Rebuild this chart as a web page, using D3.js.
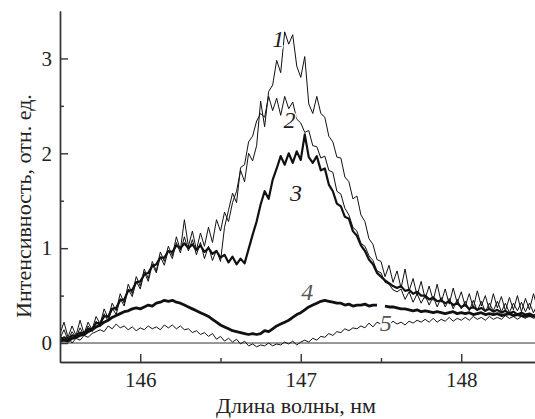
<!DOCTYPE html>
<html>
<head>
<meta charset="utf-8">
<script src="https://cdn.jsdelivr.net/npm/d3@7/dist/d3.min.js"></script>
<style>
  body { margin: 0; background: #fff; }
  svg text { font-family: "Liberation Serif", serif !important; }
</style>
</head>
<body>
<svg id="chart" width="535" height="419"></svg>
<script>
// wavelength grid, nm (145.5 .. 148.5, step 0.025)
const wavelengths = d3.range(121).map(i => +(145.5 + i * 0.025).toFixed(3));

// intensity, arb. units
const curve1 = [0.10,0.22,0.06,0.18,0.08,0.24,0.10,0.22,0.14,0.28,0.20,0.36,0.26,0.42,0.34,0.52,0.42,0.62,0.52,0.70,
  0.60,0.78,0.68,0.86,0.76,0.96,0.86,1.02,0.92,1.12,0.98,1.30,1.02,1.18,0.98,1.16,1.02,1.22,1.06,1.30,
  1.18,1.38,1.28,1.48,1.60,1.82,1.70,2.00,1.92,2.08,2.55,2.28,2.65,2.72,2.98,2.85,3.28,3.15,3.25,2.92,
  2.80,3.02,2.52,2.42,2.60,2.42,2.38,2.18,2.12,1.96,1.95,1.75,1.70,1.52,1.55,1.35,1.28,1.10,1.04,0.88,
  0.86,0.70,0.82,0.64,0.76,0.58,0.78,0.55,0.68,0.50,0.65,0.47,0.60,0.45,0.62,0.43,0.57,0.41,0.58,0.42,
  0.54,0.39,0.52,0.37,0.55,0.39,0.50,0.35,0.52,0.37,0.49,0.34,0.48,0.35,0.50,0.33,0.47,0.35,0.52,0.37,0.46];
const curve2 = [0.05,0.14,0.03,0.12,0.06,0.16,0.08,0.18,0.12,0.23,0.17,0.31,0.23,0.37,0.30,0.47,0.39,0.57,0.49,0.65,
  0.57,0.75,0.65,0.83,0.74,0.91,0.82,0.98,0.89,1.06,0.95,1.12,0.97,1.09,0.93,1.06,0.89,1.02,0.87,0.98,
  0.86,1.22,1.40,1.58,1.48,1.85,1.88,2.12,2.18,2.34,2.42,2.38,2.60,2.45,2.58,2.40,2.60,2.47,2.54,2.36,
  2.32,2.22,2.24,2.08,2.07,1.95,1.97,1.82,1.80,1.60,1.57,1.42,1.35,1.22,1.18,1.05,1.02,0.92,0.87,0.76,
  0.74,0.64,0.62,0.56,0.54,0.57,0.46,0.54,0.43,0.52,0.42,0.50,0.40,0.49,0.38,0.48,0.38,0.47,0.36,0.46,
  0.36,0.44,0.34,0.45,0.34,0.44,0.33,0.42,0.34,0.44,0.33,0.42,0.32,0.42,0.34,0.43,0.33,0.42,0.32,0.41,0.34];
const curve3 = [0.03,0.06,0.04,0.08,0.07,0.11,0.10,0.15,0.15,0.21,0.21,0.28,0.28,0.36,0.37,0.45,0.46,0.55,0.56,0.64,
  0.65,0.72,0.74,0.81,0.83,0.90,0.90,0.97,0.96,1.03,1.00,1.05,1.00,1.04,0.98,1.03,0.96,1.00,0.94,0.97,
  0.90,0.93,0.85,0.91,0.83,0.89,0.84,0.99,1.14,1.28,1.46,1.60,1.52,1.72,1.84,1.97,1.88,2.00,1.90,2.02,
  1.93,2.20,1.96,1.90,1.97,1.82,1.84,1.67,1.60,1.47,1.44,1.33,1.31,1.18,1.13,1.03,0.97,0.88,0.83,0.74,
  0.70,0.66,0.63,0.60,0.58,0.60,0.55,0.56,0.52,0.54,0.50,0.50,0.46,0.48,0.44,0.45,0.42,0.44,0.40,0.42,
  0.38,0.40,0.36,0.38,0.35,0.37,0.34,0.36,0.33,0.35,0.32,0.34,0.31,0.33,0.30,0.32,0.30,0.31,0.29,0.30,0.28];
const curve4 = [0.02,0.03,0.02,0.05,0.06,0.08,0.09,0.12,0.14,0.17,0.19,0.22,0.24,0.27,0.29,0.31,0.33,0.34,0.36,0.37,
  0.36,0.38,0.40,0.39,0.42,0.43,0.45,0.44,0.45,0.43,0.42,0.40,0.38,0.36,0.34,0.32,0.30,0.28,0.25,0.22,
  0.19,0.17,0.15,0.13,0.12,0.11,0.10,0.09,0.10,0.09,0.10,0.13,0.12,0.15,0.18,0.20,0.22,0.24,0.27,0.30,
  0.32,0.35,0.38,0.40,0.42,0.44,0.45,0.44,0.43,0.42,0.42,0.40,0.41,0.39,0.40,0.40,0.41,0.39,0.40,0.40,
  null,0.39,0.38,0.38,0.37,0.36,0.36,0.35,0.34,0.35,0.33,0.34,0.33,0.32,0.33,0.32,0.31,0.32,0.33,0.31,
  0.32,0.31,0.32,0.30,0.31,0.32,0.30,0.31,0.30,0.31,0.29,0.30,0.31,0.29,0.30,0.29,0.28,0.29,0.28,0.28,0.27];
const curve5 = [0.08,0.02,0.06,0.00,0.05,0.03,0.08,0.06,0.10,0.12,0.14,0.12,0.18,0.15,0.20,0.16,0.18,0.14,0.17,0.13,
  0.16,0.14,0.18,0.15,0.17,0.14,0.19,0.16,0.19,0.15,0.18,0.14,0.15,0.11,0.13,0.09,0.11,0.07,0.10,0.04,
  0.07,0.02,0.05,0.01,0.04,-0.01,0.02,-0.03,-0.01,-0.04,-0.02,-0.03,0.00,-0.03,-0.01,-0.02,0.01,-0.01,0.02,-0.02,
  0.01,0.03,0.01,0.05,0.03,0.07,0.06,0.10,0.08,0.12,0.11,0.15,0.13,0.16,0.15,0.18,0.16,0.21,0.17,0.22,
  0.20,0.22,0.19,0.23,0.20,0.22,0.19,0.23,0.21,0.24,0.22,0.25,0.22,0.26,0.22,0.25,0.23,0.27,0.23,0.26,
  0.24,0.27,0.24,0.28,0.25,0.27,0.24,0.28,0.25,0.27,0.25,0.29,0.26,0.28,0.25,0.28,0.26,0.29,0.26,0.28,0.27];

const xMajor = [146, 147, 148];
const xMinor = [146.5, 147.5, 148.5];
const yMajor = [0, 1, 2, 3];
const yMinor = [0.5, 1.5, 2.5];
const curveLabels = ["1", "2", "3", "4", "5"];

const FONT = "'Liberation Serif', serif";
const width = 535, height = 419;
const svg = d3.select("#chart");

const x = d3.scaleLinear().domain([145.5, 148.5]).range([60, 541.5]);
const y = d3.scaleLinear().domain([-0.2, 3.5]).range([362, 11]);

const series = [
  { values: curve1, w: 1.0, label: curveLabels[0], lx: 146.86, ly: 3.12, c: "#222" },
  { values: curve2, w: 1.0, label: curveLabels[1], lx: 146.93, ly: 2.27, c: "#222" },
  { values: curve3, w: 2.2, label: curveLabels[2], lx: 146.97, ly: 1.5, c: "#222" },
  { values: curve4, w: 2.8, label: curveLabels[3], lx: 147.04, ly: 0.45, c: "#555" },
  { values: curve5, w: 1.0, label: curveLabels[4], lx: 147.53, ly: 0.13, c: "#555" }
];

const line = d3.line()
  .defined(d => d[1] !== null)
  .x(d => x(d[0]))
  .y(d => y(d[1]));

svg.append("defs").append("clipPath").attr("id", "plot")
  .append("rect").attr("x", 60).attr("y", 0).attr("width", width - 60).attr("height", 362);

// zero line
svg.append("line")
  .attr("x1", x(145.5)).attr("x2", width)
  .attr("y1", y(0)).attr("y2", y(0))
  .attr("stroke", "#333").attr("stroke-width", 1);

const g = svg.append("g").attr("clip-path", "url(#plot)");
series.forEach(s => {
  g.append("path")
    .datum(wavelengths.map((w, i) => [w, s.values[i]]))
    .attr("d", line)
    .attr("fill", "none")
    .attr("stroke", "#111")
    .attr("stroke-width", s.w)
    .attr("stroke-linejoin", "round");
});

series.forEach(s => {
  svg.append("text")
    .attr("x", x(s.lx))
    .attr("y", y(s.ly))
    .attr("text-anchor", "middle")
    .style("font-family", FONT, "important")
    .style("font-style", "italic")
    .style("font-size", "24px")
    .style("fill", s.c)
    .attr("stroke", "#fff").attr("stroke-width", 3).style("paint-order", "stroke")
    .text(s.label);
});

// axes
const xAxis = svg.append("g")
  .attr("transform", "translate(0,362)")
  .call(d3.axisBottom(x).tickValues(xMajor).tickSize(-8).tickSizeOuter(0).tickPadding(10).tickFormat(d3.format("d")));
svg.append("g")
  .attr("transform", "translate(0,362)")
  .call(d3.axisBottom(x).tickValues(xMinor).tickSize(-4).tickSizeOuter(0).tickFormat(""));
const yAxis = svg.append("g")
  .attr("transform", "translate(60,0)")
  .call(d3.axisLeft(y).tickValues(yMajor).tickSize(-8).tickSizeOuter(0).tickPadding(8).tickFormat(d3.format("d")));
svg.append("g")
  .attr("transform", "translate(60,0)")
  .call(d3.axisLeft(y).tickValues(yMinor).tickSize(-4).tickSizeOuter(0).tickFormat(""));

svg.selectAll(".domain, .tick line").attr("stroke", "#333").attr("stroke-width", 1.4);
[xAxis, yAxis].forEach(a => {
  a.attr("font-family", FONT);
  a.selectAll("text")
    .style("font-family", FONT, "important")
    .style("font-size", "21px")
    .attr("fill", "#222");
});

// axis titles
svg.append("text")
  .attr("x", 296).attr("y", 413)
  .attr("text-anchor", "middle")
  .style("font-family", FONT, "important")
  .style("font-size", "22px")
  .attr("fill", "#222")
  .text("Длина волны, нм");
svg.append("text")
  .attr("transform", "translate(31,206) rotate(-90)")
  .attr("text-anchor", "middle")
  .style("font-family", FONT, "important")
  .style("font-size", "22px")
  .attr("fill", "#222")
  .text("Интенсивность, отн. ед.");
</script>
</body>
</html>
